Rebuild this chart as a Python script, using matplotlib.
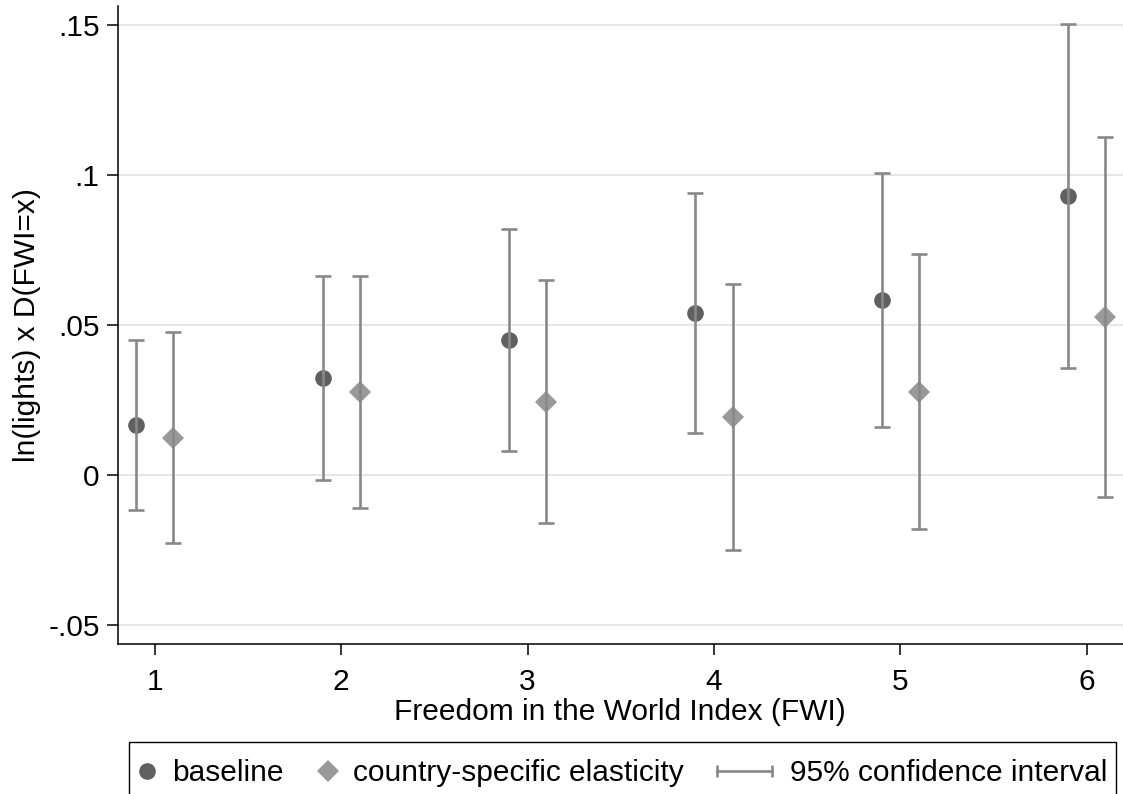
import numpy as np
import matplotlib
matplotlib.use("Agg")
from matplotlib import pyplot as plt
from matplotlib.lines import Line2D
from matplotlib.patches import Rectangle
from matplotlib.legend_handler import HandlerLine2D

# values
fwi = [1, 2, 3, 4, 5, 6]
baseline = [0.0167, 0.0322, 0.0450, 0.0541, 0.0583, 0.0930]
baseline_lo = [-0.0116, -0.0017, 0.0080, 0.0141, 0.0161, 0.0357]
baseline_hi = [0.0450, 0.0662, 0.0821, 0.0941, 0.1008, 0.1502]
country = [0.0124, 0.0278, 0.0243, 0.0192, 0.0278, 0.0526]
country_lo = [-0.0226, -0.0109, -0.0161, -0.0250, -0.0181, -0.0072]
country_hi = [0.0476, 0.0664, 0.0651, 0.0636, 0.0737, 0.1128]

y_ticks = [-0.05, 0, 0.05, 0.1, 0.15]
y_tick_labels = ["-.05", "0", ".05", ".1", ".15"]
legend_labels = ["baseline", "country-specific elasticity", "95% confidence interval"]

W, H = 1123, 794
FS = 21.5
dark = "#606060"
light = "#999999"
ci_col = "#888888"

plt.rcParams["font.family"] = ["Liberation Sans", "DejaVu Sans"]

fig = plt.figure(figsize=(W / 100, H / 100), dpi=100)
left, bottom, top = 117.5 / W, (H - 644) / H, (H - 6) / H
ax = fig.add_axes([left, bottom, 1 - left, top - bottom])

x = np.array(fwi, dtype=float)
b = np.array(baseline)
c = np.array(country)

# markers first, CI lines drawn on top (as in the reference)
ax.plot(x - 0.1, b, ls="none", marker="o", ms=12, color=dark, mew=0, zorder=2)
ax.plot(x + 0.1, c, ls="none", marker="D", ms=11.5, color=light, mew=0, zorder=2)
ax.errorbar(x - 0.1, b, yerr=[b - np.array(baseline_lo), np.array(baseline_hi) - b],
            fmt="none", ecolor=ci_col, elinewidth=1.9, capsize=5.7, capthick=1.9, zorder=3)
ax.errorbar(x + 0.1, c, yerr=[c - np.array(country_lo), np.array(country_hi) - c],
            fmt="none", ecolor=ci_col, elinewidth=1.9, capsize=5.7, capthick=1.9, zorder=3)

ax.set_xlim(0.8, 6.195)
ax.set_ylim(-0.0563, 0.1563)
ax.set_xticks(fwi)
ax.set_yticks(y_ticks)
ax.set_yticklabels(y_tick_labels)
ax.yaxis.grid(True, color="#e6e6e6", lw=1.4)
ax.set_axisbelow(True)
for s in ["top", "right"]:
    ax.spines[s].set_visible(False)
for s in ["left", "bottom"]:
    ax.spines[s].set_linewidth(1.1)
ax.tick_params(axis="both", direction="out", length=7.8, width=1.1, labelsize=FS)
ax.tick_params(axis="x", pad=9.5)
ax.tick_params(axis="y", pad=5)
ax.set_xlabel("Freedom in the World Index (FWI)", fontsize=FS, labelpad=1.5)
ax.set_ylabel("ln(lights) x D(FWI=x)", fontsize=FS, labelpad=5.5)

# legend: frame box + three items placed like Stata's legend row
fig.add_artist(Rectangle((129 / W, -0.02), (1116 - 129) / W, (H - 741.7) / H + 0.02,
                         transform=fig.transFigure, fill=False, edgecolor="black", lw=1.0))
h_base = Line2D([], [], ls="none", marker="o", ms=12, color=dark, mew=0)
h_ctry = Line2D([], [], ls="none", marker="D", ms=11.5, color=light, mew=0)
h_ci = Line2D([], [], color=ci_col, lw=1.9, marker="|", ms=8.6, mew=1.9)
ly = 1 - 773 / H
items = [(h_base, legend_labels[0], 132.1, 1.0, 0.33),
         (h_ctry, legend_labels[1], 313.1, 1.0, 0.33),
         (h_ci, legend_labels[2], 717.3, 1.82, 0.6)]
for handle, label, xs, hl, tp in items:
    fig.legend([handle], [label], loc="center left", bbox_to_anchor=(xs / W, ly),
               frameon=False, borderpad=0, borderaxespad=0, fontsize=FS,
               handlelength=hl, handletextpad=tp,
               handler_map={h_ci: HandlerLine2D(numpoints=2, marker_pad=0)})

fig.savefig("out.png", dpi=100)
